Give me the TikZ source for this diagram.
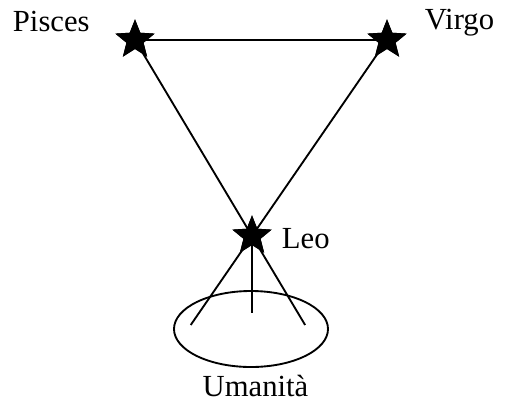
\documentclass[tikz,border=0pt]{standalone}
\usepackage{fontspec}
\setmainfont{Liberation Serif}
\usetikzlibrary{shapes.geometric, positioning, calc}

\begin{document}
\begin{tikzpicture}[
    x=0.75pt, y=-0.75pt,
    line width=1.4pt,
    sign/.style={star, star points=5, star point ratio=2.3, fill=black, draw=none, minimum size=31pt, inner sep=0pt},
    label_txt/.style={inner sep=0pt, font=\fontsize{23}{27}\selectfont},
    crowd/.style={draw, ellipse, minimum width=115.5pt, minimum height=57pt, inner sep=0pt}
]
    \useasboundingbox (0,0) rectangle (505,403);

    % ================= CONSTELLATIONS =================
    \node[sign] (PIS) at (135, 40) {};
    \node[sign] (VIR) at (387, 40) {};
    \node[sign] (LEO) at (252, 236) {};

    \node[label_txt, anchor=base west] (pisLbl) at (12, 32) {Pisces};
    \node[label_txt, anchor=base west] (virLbl) at (424, 30) {Virgo};
    \node[label_txt, anchor=base west] (leoLbl) at (281, 248) {Leo};

    % ================= HUMANITY =================
    \node[crowd] (HUM) at (251, 329) {};
    \node[label_txt, anchor=base] (humLbl) at (255.5, 396) {Umanità};

    % ================= CONNECTIONS =================
    \coordinate (pisEnd) at ($(PIS.center)!1.454!(LEO.center)$);
    \coordinate (virEnd) at ($(VIR.center)!1.454!(LEO.center)$);
    \coordinate (leoEnd) at (252, 313);

    \draw (PIS.center) -- (VIR.center);
    \draw (PIS.center) -- (pisEnd);
    \draw (VIR.center) -- (virEnd);
    \draw (LEO.center) -- (leoEnd);

    % stars on top of the lines
    \node[sign] at (PIS) {};
    \node[sign] at (VIR) {};
    \node[sign] at (LEO) {};

\end{tikzpicture}
\end{document}
